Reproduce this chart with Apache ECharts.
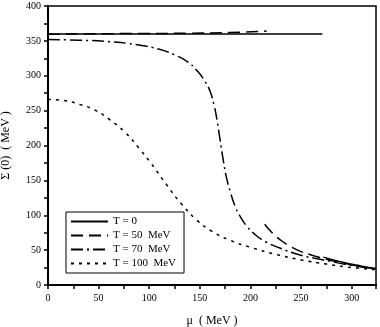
<!DOCTYPE html>
<html>
<head>
<meta charset="utf-8">
<script src="https://cdn.jsdelivr.net/npm/echarts@6/dist/echarts.min.js"></script>
<style>
  html, body { margin: 0; padding: 0; background: #fff; }
  #chart { width: 380px; height: 327px; }
</style>
</head>
<body>
<div id="chart"></div>
<script>
// curve data (mu in MeV, Sigma(0) in MeV); null = gap
var muT0 = [0, 100, 200, 271, 271.5, 272, 290, 310, 324];
var sigT0 = [360, 360, 360, 360, null, 40, 33, 27, 23.5];

var muT50 = [0, 80, 140, 180, 216, 215, 214, 222, 232, 245, 260, 275, 290, 310, 324];
var sigT50 = [359.5, 360.5, 361, 362, 364, null, 87, 74, 62, 51, 43, 37, 32, 26, 23];

var muT70 = [0, 30, 60, 90, 110, 125, 138, 148, 155, 160, 164, 167, 170, 173, 176, 180, 185, 190, 196, 204, 215, 229, 249, 272, 300, 324];
var sigT70 = [352, 351, 349, 344, 338, 330, 320, 306, 292, 278, 258, 236, 208, 180, 156, 134, 112, 98, 85, 73, 62, 53, 43, 36, 28, 23];

var muT100 = [0, 16, 31, 46, 61, 76, 90, 102, 117, 132, 147, 162, 180, 200, 225, 250, 275, 300, 324];
var sigT100 = [266, 264.5, 259, 251, 237, 219, 196, 174, 144, 116, 93, 77, 64, 54, 44, 36, 30, 25, 22];

var names = ["T = 0", "T = 50  MeV", "T = 70  MeV", "T = 100  MeV"];

function pairs(xs, ys) {
  var out = [];
  for (var i = 0; i < xs.length; i++) {
    out.push([xs[i], ys[i] === null ? "-" : ys[i]]);
  }
  return out;
}

var serif = "Liberation Serif";

function line(name, data, dash) {
  return {
    name: name,
    type: "line",
    data: data,
    symbol: "none",
    smooth: 0.5,
    connectNulls: false,
    lineStyle: { color: "#000", width: 1.5, type: dash },
    itemStyle: { color: "#000" },
    animation: false
  };
}

var chart = echarts.init(document.getElementById("chart"));
chart.setOption({
  backgroundColor: "#fff",
  animation: false,
  grid: {
    left: 48, right: 4, top: 6, bottom: 42,
    containLabel: false,
    outerBoundsMode: "none",
    show: true, borderColor: "#000", borderWidth: 1.5
  },
  legend: {
    data: names,
    orient: "vertical",
    left: 66, top: 212,
    itemWidth: 37, itemHeight: 10, itemGap: 3,
    padding: [4, 8, 4, 4],
    borderColor: "#000", borderWidth: 1,
    backgroundColor: "#fff",
    itemStyle: { opacity: 0 },
    textStyle: { fontFamily: serif, fontSize: 11, color: "#000" }
  },
  xAxis: {
    type: "value",
    min: 0, max: 324, interval: 25,
    name: "μ  ( MeV )",
    nameLocation: "middle",
    nameGap: 30,
    nameTextStyle: { fontFamily: serif, fontSize: 12, color: "#000" },
    axisLine: { lineStyle: { color: "#000", width: 2 } },
    axisTick: { show: true, length: 4, lineStyle: { color: "#000", width: 1.5 } },
    axisLabel: {
      fontFamily: serif, fontSize: 10, color: "#000", margin: 8,
      formatter: function (v) { return v % 50 === 0 ? String(v) : ""; }
    },
    splitLine: { show: false }
  },
  yAxis: {
    type: "value",
    min: 0, max: 400, interval: 25,
    name: "Σ (0)  ( MeV )",
    nameLocation: "middle",
    nameGap: 36,
    nameTextStyle: { fontFamily: serif, fontSize: 12, color: "#000" },
    axisLine: { lineStyle: { color: "#000", width: 2 } },
    axisTick: { show: true, length: 4, lineStyle: { color: "#000", width: 1.5 } },
    axisLabel: {
      fontFamily: serif, fontSize: 10, color: "#000", margin: 7,
      formatter: function (v) { return v % 50 === 0 ? String(v) : ""; }
    },
    splitLine: { show: false }
  },
  series: [
    line(names[0], pairs(muT0, sigT0), "solid"),
    line(names[1], pairs(muT50, sigT50), [12, 6]),
    line(names[2], pairs(muT70, sigT70), [12, 4, 2, 4]),
    line(names[3], pairs(muT100, sigT100), [3, 5])
  ]
});
</script>
</body>
</html>
